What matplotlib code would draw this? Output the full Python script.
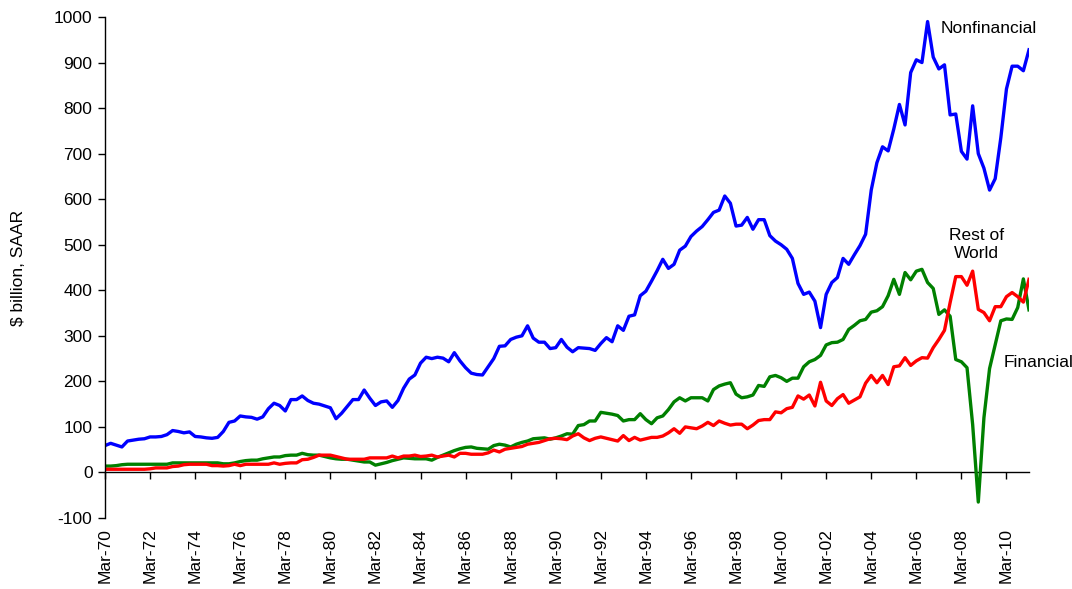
import numpy as np
import matplotlib
matplotlib.use("Agg")
import matplotlib.pyplot as plt

plt.rcParams['font.family'] = ['Liberation Sans', 'DejaVu Sans']
plt.rcParams['axes.unicode_minus'] = False

# quarterly flows, Mar-70 .. Mar-11, $ billion SAAR
nonfinancial = [
    59, 64, 60, 56, 69, 71, 73, 74, 78, 78, 79, 83, 92, 90, 87, 89,
    79, 78, 76, 75, 77, 90, 110, 113, 124, 122, 121, 117, 122, 140, 152, 147,
    135, 160, 160, 168, 158, 152, 150, 146, 142, 118, 130, 145, 160, 160, 181, 163,
    147, 155, 157, 143, 158, 185, 205, 214, 240, 253, 250, 253, 251, 243, 263, 245,
    230, 218, 215, 214, 232, 250, 277, 278, 292, 297, 300, 322, 295, 286, 286, 272,
    274, 292, 275, 265, 274, 273, 272, 268, 283, 296, 287, 322, 312, 343, 346, 388,
    398, 420, 443, 468, 448, 457, 488, 497, 518, 530, 540, 555, 571, 576, 607, 591,
    541, 543, 560, 534, 555, 555, 520, 508, 500, 490, 470, 415, 391, 396, 376, 318,
    391, 417, 428, 470, 457, 478, 498, 523, 620, 680, 715, 706, 754, 808, 763, 878,
    906, 900, 990, 912, 886, 895, 785, 787, 705, 688, 805, 700, 668, 620, 645, 735,
    842, 892, 892, 882, 928,
]
financial = [
    14, 14, 15, 17, 18, 18, 18, 18, 18, 18, 18, 18, 21, 21, 21, 21,
    21, 21, 21, 21, 21, 19, 19, 21, 24, 26, 27, 27, 30, 32, 34, 34,
    37, 38, 38, 42, 39, 38, 38, 35, 32, 30, 29, 29, 27, 25, 23, 23,
    16, 19, 22, 26, 29, 32, 31, 30, 30, 30, 27, 33, 38, 43, 48, 52,
    55, 56, 53, 52, 51, 59, 62, 60, 56, 62, 66, 69, 74, 75, 76, 73,
    76, 80, 85, 84, 103, 105, 113, 113, 132, 130, 128, 125, 113, 116, 116, 129,
    116, 107, 120, 124, 138, 155, 164, 157, 164, 164, 164, 157, 182, 190, 194, 197,
    172, 164, 166, 170, 191, 189, 210, 213, 208, 200, 207, 207, 232, 243, 248, 257,
    280, 285, 286, 292, 314, 323, 333, 336, 352, 355, 364, 388, 424, 391, 439, 423,
    442, 446, 417, 404, 347, 357, 343, 248, 243, 230, 105, -65, 120, 228, 280, 333,
    337, 336, 362, 425, 357,
]
rest_of_world = [
    7, 7, 7, 7, 7, 7, 7, 7, 8, 10, 10, 10, 13, 14, 17, 18,
    18, 18, 18, 15, 15, 14, 15, 18, 15, 18, 18, 18, 18, 18, 21, 18,
    20, 21, 21, 28, 29, 33, 38, 38, 38, 35, 32, 29, 29, 29, 29, 32,
    32, 32, 32, 36, 32, 36, 36, 38, 35, 36, 38, 34, 36, 38, 34, 42,
    42, 40, 40, 40, 43, 49, 45, 51, 53, 55, 57, 62, 64, 66, 70, 74,
    75, 74, 72, 80, 85, 76, 70, 75, 78, 75, 72, 69, 81, 70, 77, 71,
    74, 77, 77, 80, 87, 96, 86, 100, 98, 96, 102, 110, 103, 113, 108, 104,
    106, 106, 96, 104, 114, 116, 116, 133, 131, 140, 143, 168, 161, 170, 146, 198,
    157, 147, 162, 171, 152, 159, 166, 196, 213, 197, 213, 193, 232, 234, 252, 235,
    245, 252, 251, 274, 292, 312, 373, 430, 430, 411, 442, 358, 351, 333, 364, 364,
    386, 395, 386, 374, 424,
]

tick_labels = ['Mar-70', 'Mar-72', 'Mar-74', 'Mar-76', 'Mar-78', 'Mar-80', 'Mar-82',
               'Mar-84', 'Mar-86', 'Mar-88', 'Mar-90', 'Mar-92', 'Mar-94', 'Mar-96',
               'Mar-98', 'Mar-00', 'Mar-02', 'Mar-04', 'Mar-06', 'Mar-08', 'Mar-10']

x = np.arange(len(nonfinancial))
ticks = np.arange(0, len(x), 8)

fig = plt.figure(figsize=(10.72, 5.89), dpi=100)
ax = fig.add_axes([105 / 1072, 1 - 518 / 589, (1029 - 105) / 1072, (518 - 17) / 589])

ax.plot(x, nonfinancial, color='#0000FF', lw=2.4)
ax.plot(x, financial, color='#008000', lw=2.4)
ax.plot(x, rest_of_world, color='#FF0000', lw=2.4)

ax.set_xlim(0, len(x) - 1)
ax.set_ylim(-100, 1000)
ax.set_yticks(np.arange(-100, 1001, 100))

for s in ['top', 'right', 'bottom']:
    ax.spines[s].set_visible(False)
ax.spines['left'].set_linewidth(1)

ax.tick_params(axis='y', direction='out', length=5, width=1, labelsize=12.5, pad=4)
ax.set_xticks(ticks)
ax.set_xticklabels(tick_labels, rotation=90, fontsize=12.5)
ax.tick_params(axis='x', length=0, pad=7)

# horizontal axis drawn at zero, labels stay at the bottom
sec = ax.secondary_xaxis(100 / 1100)
sec.set_xticks(ticks)
sec.tick_params(axis='x', direction='out', length=5, width=1,
                labelbottom=False, labeltop=False, bottom=True, top=False)
sec.spines['bottom'].set_linewidth(1)

ax.set_ylabel(r'\$ billion, SAAR', fontsize=12.5, labelpad=20)

ax.text(148.4, 975, 'Nonfinancial', fontsize=12.5, ha='left', va='center')
ax.text(154.7, 501, 'Rest of\nWorld', fontsize=12.5, ha='center', va='center',
        linespacing=1.25)
ax.text(159.5, 242, 'Financial', fontsize=12.5, ha='left', va='center', clip_on=False)

fig.savefig('out.png', dpi=100)
